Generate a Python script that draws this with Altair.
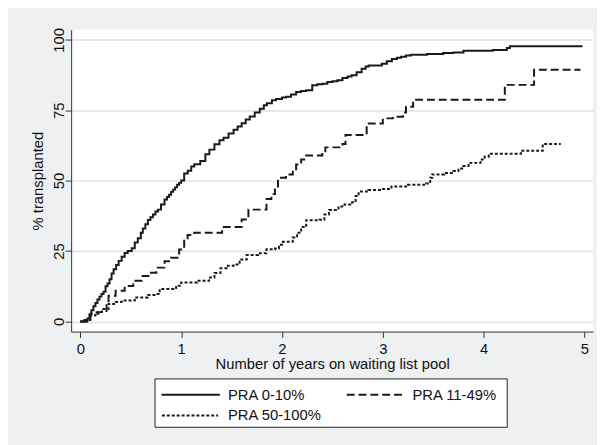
import altair as alt
import pandas as pd

groups = ["PRA 0-10%", "PRA 11-49%", "PRA 50-100%"]

solid_t = [0, 0.04, 0.07, 0.09, 0.11, 0.13, 0.15, 0.17, 0.19, 0.21,
           0.23, 0.25, 0.27, 0.29, 0.31, 0.33, 0.355, 0.38, 0.41, 0.44,
           0.47, 0.51, 0.54, 0.57, 0.60, 0.62, 0.645, 0.67, 0.695, 0.72,
           0.745, 0.77, 0.80, 0.835, 0.86, 0.88, 0.90, 0.92, 0.94, 0.96,
           0.98, 1.00,
           1.03, 1.065, 1.10, 1.13, 1.19, 1.24, 1.28, 1.33, 1.38, 1.42,
           1.47, 1.52, 1.56, 1.60, 1.64, 1.68, 1.73, 1.78, 1.82, 1.85,
           1.90, 1.94, 2.00, 2.04, 2.09, 2.14, 2.19, 2.24, 2.30, 2.35,
           2.40, 2.45, 2.50, 2.55, 2.60, 2.65, 2.69, 2.74, 2.79, 2.83,
           2.86, 2.99, 3.04, 3.09, 3.14, 3.18, 3.23, 3.28, 3.44, 3.60,
           3.70, 3.80, 4.09, 4.23, 4.26, 4.98]
solid_v = [0, 0.5, 1, 2.5, 4, 5.4, 6.5, 7.8, 8.8, 9.7,
           10.5, 12.5, 13.5, 15, 17, 18.5, 20, 21.5, 23, 24.3,
           25, 26, 28, 29.5, 31.5, 33, 34.5, 36, 37, 38,
           39, 39.7, 41.5, 43.3, 44.2, 45, 46, 46.8, 47.6, 48.5,
           49.2, 50,
           52.5, 53.5, 55, 55.8, 57, 59.4, 61, 62.9, 64.3, 65.2,
           66.7, 68.1, 69.2, 70.4, 71.7, 72.8, 74.2, 75.5, 76.8, 77.5,
           78.5, 79, 79.5, 79.8, 80.6, 81.5, 81.8, 82.1, 83.9, 84.2,
           84.4, 85, 85.3, 85.6, 86.4, 87, 87.4, 88.5, 89.7, 90.5,
           90.9, 91.5, 92.4, 93.2, 93.6, 94, 94.4, 94.7, 95, 95.3,
           95.5, 96.1, 96.4, 97.1, 97.7, 97.7]

dash_t = [0, 0.07, 0.10, 0.18, 0.26, 0.28, 0.35, 0.44, 0.525, 0.607,
          0.69, 0.754, 0.836, 0.90, 0.98, 1.03, 1.064, 1.13, 1.406, 1.60,
          1.667, 1.846, 1.895, 1.93, 1.96, 2.04, 2.107, 2.14, 2.19, 2.24,
          2.40, 2.43, 2.60, 2.63, 2.84, 3.00, 3.10, 3.20, 3.23, 3.30,
          4.21, 4.50, 4.96]
dash_v = [0, 0.5, 2.7, 3.3, 6.2, 9.1, 10.9, 12.6, 14.4, 16.1,
          17.3, 19.1, 21.4, 22.6, 25.5, 29, 30.7, 31.5, 33.5, 36.2,
          39.7, 43.5, 45.2, 47.5, 51, 52.2, 54, 55.7, 57.5, 58.9,
          60.4, 61.8, 63, 66.2, 70.3, 72.1, 72.7, 74.2, 76.2, 78.7,
          84, 89.4, 89.4]

dot_t = [0, 0.06, 0.10, 0.15, 0.215, 0.28, 0.35, 0.41, 0.54, 0.672,
         0.754, 0.787, 0.95, 1.00, 1.16, 1.276, 1.33, 1.39, 1.45, 1.52,
         1.58, 1.65, 1.765, 1.846, 1.93, 1.97, 2.01, 2.107, 2.15, 2.19,
         2.24, 2.37, 2.42, 2.466, 2.56, 2.62, 2.695, 2.73, 2.76, 2.857,
         2.99, 3.086, 3.25, 3.43, 3.47, 3.49, 3.61, 3.70, 3.75, 3.80,
         3.85, 3.97, 4.01, 4.05, 4.37, 4.586, 4.765]
dot_v = [0, 0.5, 2.1, 3.3, 4.4, 6.2, 6.9, 7.4, 8.5, 9.4,
         9.7, 11.5, 12.7, 13.8, 14.4, 15.6, 17.2, 18.9, 19.8, 20.2,
         22, 23.6, 24.2, 25.6, 25.9, 27.2, 28.3, 29.8, 31.5, 33.5,
         35.9, 36.1, 38, 39.6, 40.8, 41.5, 42.3, 44.5, 46.1, 46.7,
         47, 47.9, 48.5, 49, 51, 52.2, 52.7, 53.4, 54.3, 55.2,
         56.3, 57.5, 58.5, 59.5, 60.6, 63, 63]

x_ticks = [0, 1, 2, 3, 4, 5]
y_ticks = [0, 25, 50, 75, 100]

dashes = [[1, 0], [8, 4], [3, 2]]
INK = "#1a1a1a"
FONT = "Liberation Sans"

rows = []
for g, ts, vs in zip(groups, [solid_t, dash_t, dot_t], [solid_v, dash_v, dot_v]):
    for i, (t, v) in enumerate(zip(ts, vs)):
        rows.append({"t": t, "v": v, "group": g, "i": i})
df = pd.DataFrame(rows)

lines = alt.Chart(df).mark_line(
    interpolate="step-after", strokeWidth=2, color=INK
).encode(
    x=alt.X("t:Q",
            scale=alt.Scale(domain=[-0.091, 5.085], nice=False, zero=False),
            axis=alt.Axis(values=x_ticks, title="Number of years on waiting list pool",
                          grid=False, labelPadding=4, titlePadding=0, format="d")),
    y=alt.Y("v:Q",
            scale=alt.Scale(domain=[-3.61, 103.6], nice=False, zero=False),
            axis=alt.Axis(values=y_ticks, title="% transplanted", grid=True,
                          labelAngle=270, labelAlign="center", labelBaseline="alphabetic",
                          labelPadding=2, titlePadding=6, format="d")),
    strokeDash=alt.StrokeDash("group:N",
                              scale=alt.Scale(domain=groups, range=dashes),
                              legend=None),
    order="i:Q",
)

# legend box (drawn as layers)
box = alt.Chart(pd.DataFrame({"k": [0]})).mark_rect(
    fill="white", stroke="#222", strokeWidth=1
).encode(x=alt.value(85), x2=alt.value(442), y=alt.value(354), y2=alt.value(403))

legend_layers = [box]
entry_pos = [(91.6, 150.7, 159, 370), (279.3, 336.6, 346, 370), (92, 149, 159, 391)]
for g, dash, (sx0, sx1, tx, ty) in zip(groups, dashes, entry_pos):
    d = pd.DataFrame({"label": [g]})
    legend_layers.append(
        alt.Chart(d).mark_rule(strokeWidth=2, color=INK).encode(
            x=alt.value(sx0), x2=alt.value(sx1), y=alt.value(ty), strokeDash=alt.value(dash))
    )
    legend_layers.append(
        alt.Chart(d).mark_text(align="left", baseline="middle", font=FONT, fontSize=15,
                               color="#111").encode(
            x=alt.value(tx), y=alt.value(ty), text="label:N")
    )

chart = alt.layer(lines, *legend_layers).properties(
    width=529, height=306,
    autosize=alt.AutoSizeParams(type="none"),
    padding={"left": 64, "top": 19, "right": 4, "bottom": 112},
    background="#eef0f2",
).configure_view(
    fill="white", stroke=None
).configure_axis(
    labelFont=FONT, titleFont=FONT, labelFontSize=15, titleFontSize=15,
    titleFontWeight="normal", labelColor="#111", titleColor="#111",
    tickSize=6, tickColor="#333", domainColor="#333", domainWidth=1,
    gridColor="#e6e8eb", gridWidth=2
)

chart.save("out.html", embed_options={"renderer": "svg", "actions": False})
